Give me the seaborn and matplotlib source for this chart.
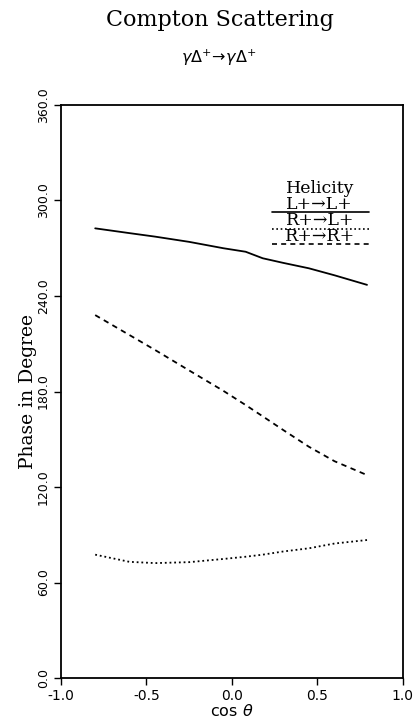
import numpy as np
import pandas as pd
import matplotlib
matplotlib.use("Agg")
import matplotlib.pyplot as plt
import seaborn as sns
from matplotlib.lines import Line2D

# Data
cos_theta = [-0.80, -0.60, -0.45, -0.25, -0.05, 0.08, 0.18, 0.30, 0.45, 0.60, 0.79]
phase_LL = [282.5, 279.5, 277.3, 274.0, 270.0, 267.8, 263.7, 260.8, 257.4, 253.0, 247.0]
phase_RL = [77.5, 73.0, 72.2, 72.8, 74.8, 76.2, 77.5, 79.5, 81.5, 84.5, 86.7]
phase_RR = [228.0, 215.5, 206.1, 193.2, 180.4, 171.5, 164.4, 155.8, 145.3, 136.2, 127.5]
labels = ["L+→L+", "R+→L+", "R+→R+"]

xticks = [-1.0, -0.5, 0.0, 0.5, 1.0]
yticks = [0, 60, 120, 180, 240, 300, 360]

df = pd.DataFrame({
    "cos": cos_theta * 3,
    "phase": phase_LL + phase_RL + phase_RR,
    "helicity": [labels[0]] * len(cos_theta) + [labels[1]] * len(cos_theta) + [labels[2]] * len(cos_theta),
})

sns.set_theme(style="ticks")
plt.rcParams["font.family"] = ["DejaVu Sans"]
plt.rcParams["text.color"] = "black"
plt.rcParams["axes.labelcolor"] = "black"
plt.rcParams["xtick.color"] = "black"
plt.rcParams["ytick.color"] = "black"

fig = plt.figure(figsize=(4.19, 7.21), dpi=100)
ax = fig.add_axes([0.1456, 0.0596, 0.816, 0.7948])

dash_map = {labels[0]: "", labels[1]: (1, 1.6), labels[2]: (3, 2.5)}
sns.lineplot(data=df, x="cos", y="phase", style="helicity", dashes=dash_map,
             color="black", linewidth=1.3, legend=False, ax=ax, sort=False)

ax.set_xlim(-1, 1)
ax.set_ylim(0, 360)
ax.set_xticks(xticks)
ax.set_xticklabels([f"{v:.1f}" for v in xticks], fontsize=10)
ax.set_yticks(yticks)
ax.set_yticklabels([f"{v:.1f}" for v in yticks], fontsize=9, rotation=90, va="center")
ax.tick_params(direction="out", length=5, width=1, colors="black", pad=3)
for s in ax.spines.values():
    s.set_linewidth(1.3)
    s.set_color("black")
    s.set_visible(True)

ax.set_xlabel("cos $\\theta$", fontsize=11.5, labelpad=0)
ax.set_ylabel("Phase in Degree", fontsize=13.5, family="DejaVu Serif", labelpad=0)

# Custom legend (text above line)
serif = "DejaVu Serif"
ax.text(0.757, 0.855, "Helicity", transform=ax.transAxes, ha="center", va="center",
        fontsize=12.5, family=serif)
legend_text_y = [0.827, 0.798, 0.770]
legend_line_y = [0.813, 0.784, 0.757]
styles = ["-", (0, (1, 1.6)), (0, (3, 2.5))]
for lab, ty, ly, ls in zip(labels, legend_text_y, legend_line_y, styles):
    ax.text(0.757, ty, lab, transform=ax.transAxes, ha="center", va="center",
            fontsize=12.5, family=serif)
    ax.add_line(Line2D([0.617, 0.90], [ly, ly], transform=ax.transAxes,
                       color="black", linewidth=1.2, linestyle=ls))

fig.text(0.524, 0.972, "Compton Scattering", ha="center", va="center",
         fontsize=16, family=serif)
fig.text(0.522, 0.920, "$\\gamma\\Delta^{+}\\!\\rightarrow\\!\\gamma\\Delta^{+}$", ha="center", va="center",
         fontsize=11.5)

fig.savefig("out.png", dpi=100)
